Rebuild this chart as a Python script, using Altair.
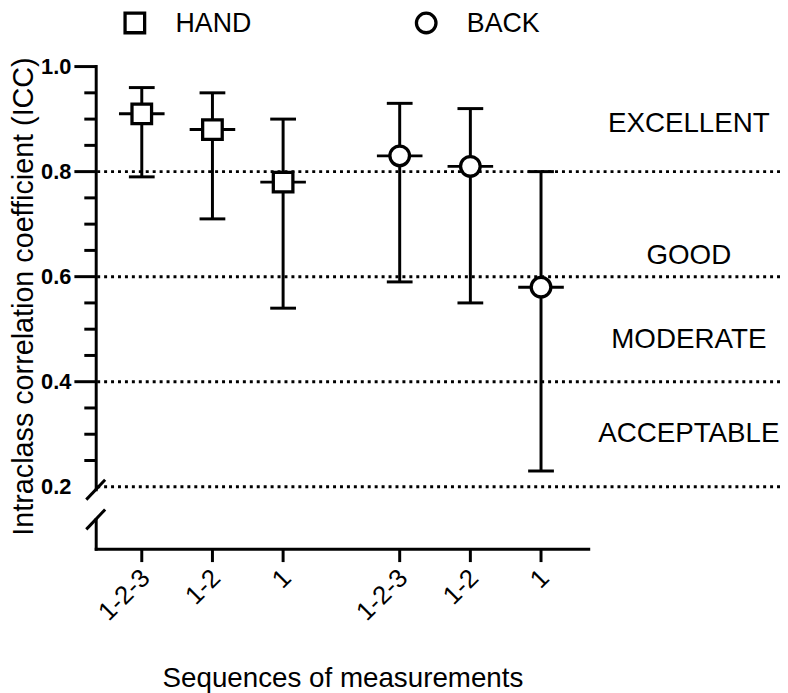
import altair as alt
import pandas as pd

# ---------------- data ----------------
groups = ["HAND", "HAND", "HAND", "BACK", "BACK", "BACK"]
sequences = ["1-2-3", "1-2", "1", "1-2-3", "1-2", "1"]
slot = [0, 1, 2, 0, 1, 2]
icc = [0.91, 0.88, 0.78, 0.83, 0.81, 0.58]
ci_low = [0.79, 0.71, 0.54, 0.59, 0.55, 0.23]
ci_high = [0.96, 0.95, 0.90, 0.93, 0.92, 0.80]

thresholds = [0.2, 0.4, 0.6, 0.8]
bands = ["EXCELLENT", "GOOD", "MODERATE", "ACCEPTABLE"]
band_y = [0.89, 0.64, 0.48, 0.30]

y_label_values = [0.2, 0.4, 0.6, 0.8, 1.0]
y_major_ticks = [0.4, 0.6, 0.8, 1.0]
y_minor_ticks = [0.25, 0.3, 0.35, 0.45, 0.5, 0.55, 0.65, 0.7, 0.75, 0.85, 0.9, 0.95]

y_title = "Intraclass correlation coefficient (ICC)"
x_title = "Sequences of measurements"
legend_names = ["HAND", "BACK"]

# ---------------- layout ----------------
FONT = "Liberation Sans"
W, H = 690, 487
GROUP_GAP = 3.65  # slot distance between first HAND and first BACK point
group_offset = {"HAND": 0.0, "BACK": GROUP_GAP}

df = pd.DataFrame({
    "group": groups, "seq": sequences, "icc": icc,
    "low": ci_low, "high": ci_high,
})
df["pos"] = [s + group_offset[g] for s, g in zip(slot, groups)]

xs = alt.Scale(domain=[-0.645, 9.032], nice=False, zero=False)
ys = alt.Scale(domain=[0.0811, 1.0], nice=False, zero=False)
X = alt.X("pos:Q", scale=xs, axis=None)

base = alt.Chart(df)

# reference dotted lines
thr = alt.Chart(pd.DataFrame({"t": thresholds})).mark_rule(
    color="black", strokeWidth=3, strokeDash=[3, 4]
).encode(y=alt.Y("t:Q", scale=ys, axis=None))

band_txt = alt.Chart(pd.DataFrame({"band": bands, "by": band_y})).mark_text(
    font=FONT, fontSize=28, color="black", align="center", baseline="middle"
).encode(x=alt.value(598), y=alt.Y("by:Q", scale=ys, axis=None), text="band:N")

# error bars
err = base.mark_rule(color="black", strokeWidth=3).encode(
    x=X, y=alt.Y("low:Q", scale=ys, axis=None), y2="high:Q")
cap_lo = base.mark_tick(orient="horizontal", size=26, thickness=3, color="black", opacity=1).encode(
    x=X, y=alt.Y("low:Q", scale=ys, axis=None))
cap_hi = base.mark_tick(orient="horizontal", size=26, thickness=3, color="black", opacity=1).encode(
    x=X, y=alt.Y("high:Q", scale=ys, axis=None))
mid = base.mark_tick(orient="horizontal", size=46, thickness=3, color="black", opacity=1).encode(
    x=X, y=alt.Y("icc:Q", scale=ys, axis=None))
pts = base.mark_point(fill="white", stroke="black", strokeWidth=3.3, size=390, opacity=1,
                      fillOpacity=1, strokeOpacity=1).encode(
    x=X, y=alt.Y("icc:Q", scale=ys, axis=None),
    shape=alt.Shape("group:N", scale=alt.Scale(domain=legend_names, range=["square", "circle"]),
                    legend=None))

# y axis (drawn by hand for the break)
one = pd.DataFrame({"a": [0]})
yline_up = alt.Chart(one).mark_rule(color="black", strokeWidth=3, strokeCap="square").encode(
    x=alt.value(0), y=alt.value(0), y2=alt.value(427))
yline_lo = alt.Chart(one).mark_rule(color="black", strokeWidth=3, strokeCap="square").encode(
    x=alt.value(0), y=alt.value(457), y2=alt.value(487))
slash_up = alt.Chart(one).mark_rule(color="black", strokeWidth=3).encode(
    x=alt.value(-10), y=alt.value(437), x2=alt.value(9), y2=alt.value(417))
slash_lo = alt.Chart(one).mark_rule(color="black", strokeWidth=3).encode(
    x=alt.value(-10), y=alt.value(467), x2=alt.value(9), y2=alt.value(447))
ymaj = alt.Chart(pd.DataFrame({"v": y_major_ticks})).mark_rule(color="black", strokeWidth=3).encode(
    y=alt.Y("v:Q", scale=ys, axis=None), x=alt.value(-22), x2=alt.value(0))
ymin = alt.Chart(pd.DataFrame({"v": y_minor_ticks})).mark_rule(color="black", strokeWidth=3).encode(
    y=alt.Y("v:Q", scale=ys, axis=None), x=alt.value(-12), x2=alt.value(0))
ylab = alt.Chart(pd.DataFrame({"v": y_label_values})).mark_text(
    font=FONT, fontSize=22, fontWeight="bold", color="black", align="right", baseline="middle"
).encode(y=alt.Y("v:Q", scale=ys, axis=None), x=alt.value(-25), text=alt.Text("v:Q", format=".1f"))
ytitle = alt.Chart(pd.DataFrame({"t": [y_title]})).mark_text(
    font=FONT, fontSize=29, color="black", angle=270, align="center", baseline="middle"
).encode(x=alt.value(-73), y=alt.value(232), text="t:N")

# x axis
xline = alt.Chart(one).mark_rule(color="black", strokeWidth=3, strokeCap="square").encode(
    x=alt.value(0), x2=alt.value(497), y=alt.value(487))
xticks = base.mark_rule(color="black", strokeWidth=3).encode(
    x=X, y=alt.value(487), y2=alt.value(500))
xlabs = base.mark_text(font=FONT, fontSize=26, color="black", angle=315, align="right",
                       baseline="middle", dx=2.8, dy=2.8).encode(
    x=X, y=alt.value(512), text="seq:N")
xtitle = alt.Chart(pd.DataFrame({"t": [x_title]})).mark_text(
    font=FONT, fontSize=28, color="black", align="center", baseline="middle"
).encode(x=alt.value(249), y=alt.value(618), text="t:N")

# legend
leg_sq = alt.Chart(one).mark_point(shape="square", fill="white", stroke="black", strokeWidth=3.3,
                                   size=390, opacity=1, fillOpacity=1).encode(
    x=alt.value(39), y=alt.value(-44))
leg_ci = alt.Chart(one).mark_point(shape="circle", fill="white", stroke="black", strokeWidth=3.3,
                                   size=390, opacity=1, fillOpacity=1).encode(
    x=alt.value(333), y=alt.value(-44))
leg_t1 = alt.Chart(pd.DataFrame({"t": [legend_names[0]]})).mark_text(
    font=FONT, fontSize=27, color="black", align="left", baseline="alphabetic").encode(
    x=alt.value(80), y=alt.value(-35), text="t:N")
leg_t2 = alt.Chart(pd.DataFrame({"t": [legend_names[1]]})).mark_text(
    font=FONT, fontSize=27, color="black", align="left", baseline="alphabetic").encode(
    x=alt.value(374), y=alt.value(-35), text="t:N")

chart = alt.layer(
    thr, band_txt, err, cap_lo, cap_hi, mid, pts,
    yline_up, yline_lo, slash_up, slash_lo, ymaj, ymin, ylab, ytitle,
    xline, xticks, xlabs, xtitle,
    leg_sq, leg_ci, leg_t1, leg_t2,
).properties(
    width=W, height=H,
    autosize=alt.AutoSizeParams(type="none"),
    padding={"left": 89, "top": 56, "right": 0, "bottom": 142},
    background="white",
).configure_view(stroke=None)

chart.save("out.html", embed_options={"renderer": "svg", "actions": False})
